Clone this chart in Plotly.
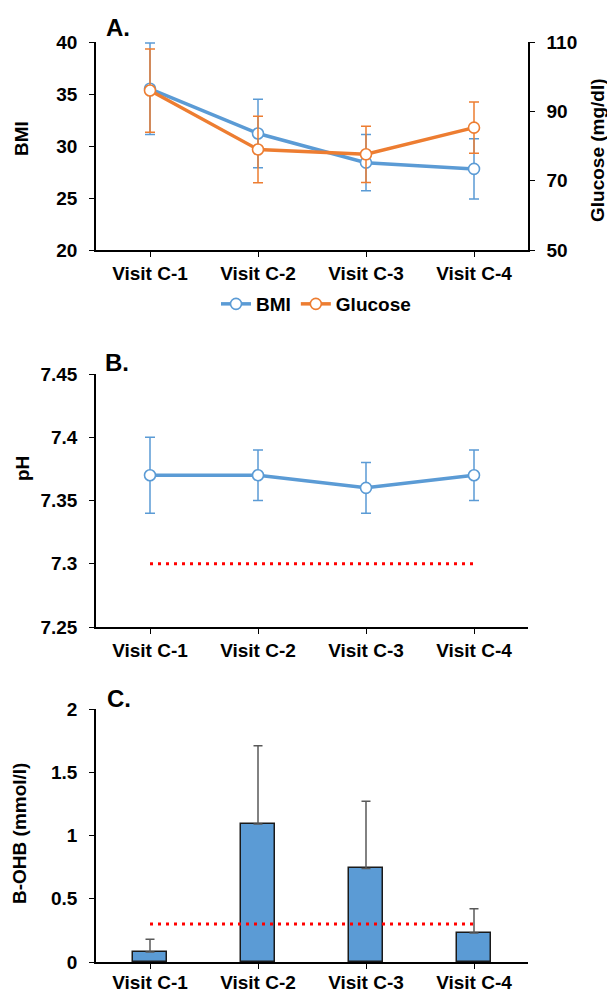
import plotly.graph_objects as go

# ---------------- data ----------------
visits = ["Visit C-1", "Visit C-2", "Visit C-3", "Visit C-4"]

bmi_mean = [35.5, 31.2, 28.4, 27.8]
bmi_sd = [4.4, 3.3, 2.7, 2.9]
glucose_mean = [96.0, 79.0, 77.6, 85.3]
glucose_sd = [12.0, 9.6, 8.1, 7.4]

ph_mean = [7.37, 7.37, 7.36, 7.37]
ph_sd = [0.03, 0.02, 0.02, 0.02]
ph_threshold = [7.3, 7.3, 7.3, 7.3]

bohb_mean = [0.08, 1.09, 0.74, 0.23]
bohb_sd = [0.10, 0.62, 0.53, 0.19]
bohb_threshold = [0.3, 0.3, 0.3, 0.3]

bmi_ticks = [20, 25, 30, 35, 40]
glucose_ticks = [50, 70, 90, 110]
ph_ticks = [7.25, 7.3, 7.35, 7.4, 7.45]
ph_ticktext = ["7.25", "7.3", "7.35", "7.4", "7.45"]
bohb_ticks = [0, 0.5, 1, 1.5, 2]
bohb_ticktext = ["0", "0.5", "1", "1.5", "2"]

# ---------------- style ----------------
BLUE = "#5B9BD5"
ORANGE = "#ED7D31"
RED = "#FF0000"
FONT = "Liberation Sans, Arial, sans-serif"
FS = 19

W, H = 607, 994
ML, MR, MT, MB = 96, 79, 42, 32
PW, PH = W - ML - MR, H - MT - MB


def xp(px):
    return (px - ML) / PW


def yp(py):
    return (H - MB - py) / PH


fig = go.Figure()

marker_open = lambda c: dict(symbol="circle", size=11, color="white", line=dict(color=c, width=1.6))

# Panel A
fig.add_trace(go.Scatter(
    x=visits, y=bmi_mean, name="BMI", mode="lines+markers",
    line=dict(color=BLUE, width=3.5), marker=marker_open(BLUE),
    error_y=dict(type="data", array=bmi_sd, color=BLUE, thickness=1.5, width=5),
    xaxis="x", yaxis="y", showlegend=True,
))
fig.add_trace(go.Scatter(
    x=visits, y=glucose_mean, name="Glucose", mode="lines+markers",
    line=dict(color=ORANGE, width=3.5), marker=marker_open(ORANGE),
    error_y=dict(type="data", array=glucose_sd, color=ORANGE, thickness=1.5, width=5),
    xaxis="x", yaxis="y2", showlegend=True,
))

# Panel B
fig.add_trace(go.Scatter(
    x=visits, y=ph_threshold, mode="lines",
    line=dict(color=RED, width=3, dash="3px,5px"),
    xaxis="x2", yaxis="y3", showlegend=False, hoverinfo="skip",
))
fig.add_trace(go.Scatter(
    x=visits, y=ph_mean, mode="lines+markers",
    line=dict(color=BLUE, width=3.5), marker=marker_open(BLUE),
    error_y=dict(type="data", array=ph_sd, color=BLUE, thickness=1.5, width=5),
    xaxis="x2", yaxis="y3", showlegend=False,
))

# Panel C
fig.add_trace(go.Bar(
    x=visits, y=bohb_mean, width=0.32,
    marker=dict(color=BLUE, line=dict(color="#1a1a1a", width=1.5)),
    error_y=dict(type="data", symmetric=False, array=bohb_sd, arrayminus=[0, 0, 0, 0],
                 color="#595959", thickness=1.5, width=4.5),
    xaxis="x3", yaxis="y4", showlegend=False,
))
fig.add_trace(go.Scatter(
    x=visits, y=bohb_threshold, mode="lines",
    line=dict(color=RED, width=3, dash="3px,5px"),
    xaxis="x3", yaxis="y4", showlegend=False, hoverinfo="skip",
))

tickfont = dict(family=FONT, size=FS, color="black", weight="bold")

xcommon = dict(
    type="category", range=[-0.5, 3.5], showline=True, linecolor="black", linewidth=1.5,
    ticks="outside", ticklen=5, tickcolor="black", tickwidth=1.2, tickfont=tickfont,
    showgrid=False, zeroline=False, automargin=False, ticklabelstandoff=0,
    domain=[0, 1],
)
ycommon = dict(
    showline=True, linecolor="black", linewidth=1.5, ticks="outside", ticklen=5,
    tickcolor="black", tickwidth=1.2, tickfont=tickfont, showgrid=False, zeroline=False,
    automargin=False, ticklabelstandoff=8,
)

dA = [yp(250), yp(42)]
dB = [yp(627), yp(374)]
dC = [yp(962), yp(709)]

fig.update_layout(
    width=W, height=H,
    margin=dict(l=ML, r=MR, t=MT, b=MB),
    paper_bgcolor="white", plot_bgcolor="white",
    font=dict(family=FONT, size=FS, color="black", weight="bold"),
    xaxis=dict(xcommon, anchor="y"),
    yaxis=dict(ycommon, domain=dA, range=[20, 40], tickvals=bmi_ticks, anchor="x"),
    yaxis2=dict(ycommon, domain=dA, range=[50, 110], tickvals=glucose_ticks,
                overlaying="y", side="right", anchor="x"),
    xaxis2=dict(xcommon, anchor="y3"),
    yaxis3=dict(ycommon, domain=dB, range=[7.25, 7.45], tickvals=ph_ticks,
                ticktext=ph_ticktext, anchor="x2"),
    xaxis3=dict(xcommon, anchor="y4", ticklabelstandoff=-3),
    yaxis4=dict(ycommon, domain=dC, range=[0, 2], tickvals=bohb_ticks,
                ticktext=bohb_ticktext, anchor="x3"),
    legend=dict(orientation="h", x=xp(316), xanchor="center", y=yp(304), yanchor="middle",
                font=dict(family=FONT, size=FS, color="black", weight="bold"),
                itemwidth=30, bgcolor="rgba(0,0,0,0)", tracegroupgap=0),
    showlegend=True,
    bargap=0,
)

ann = []
letter_font = dict(family=FONT, size=24, color="black", weight="bold")
for txt, xpx, ypx in [("A.", 118, 27), ("B.", 117, 362), ("C.", 119, 698)]:
    ann.append(dict(text=txt, x=xp(xpx), y=yp(ypx), xref="paper", yref="paper",
                    xanchor="center", yanchor="middle", showarrow=False, font=letter_font))
title_font = dict(family=FONT, size=FS, color="black", weight="bold")
for txt, xpx, ypx in [("BMI", 21, 139), ("pH", 22, 469), ("B-OHB (mmol/l)", 19, 834),
                      ("Glucose (mg/dl)", 597, 150)]:
    ann.append(dict(text=txt, x=xp(xpx), y=yp(ypx), xref="paper", yref="paper",
                    xanchor="center", yanchor="middle", showarrow=False, textangle=-90,
                    font=title_font))
fig.update_layout(annotations=ann)

fig.write_html(
    "out.html",
    config={"displayModeBar": False},
    post_script="document.body.style.margin='0';document.body.style.overflow='hidden';",
)
